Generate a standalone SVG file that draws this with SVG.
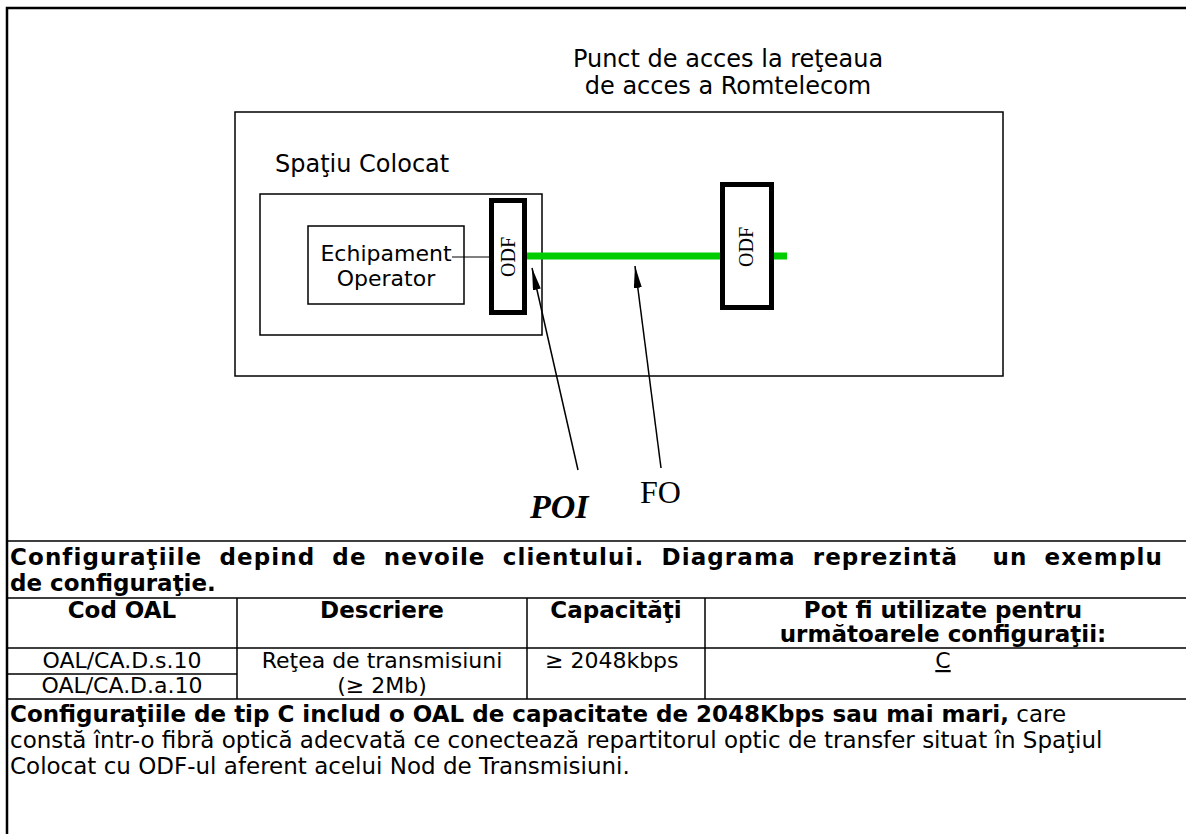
<svg xmlns="http://www.w3.org/2000/svg" width="1186" height="834" viewBox="0 0 1186 834">
<style>
.ln{stroke:#000;stroke-width:1.5;fill:none}
.frame{stroke:#000;stroke-width:2.5;fill:none}
.odf{stroke:#000;stroke-width:5;fill:#fff}
.s{font-family:"DejaVu Sans",Verdana,sans-serif;fill:#000}
.b{font-weight:bold}
.serif{font-family:"Liberation Serif","Times New Roman",serif;fill:#000}
.c{text-anchor:middle}
</style>
<defs>
<marker id="ah" markerUnits="userSpaceOnUse" markerWidth="22" markerHeight="8" refX="22" refY="4" orient="auto">
<path d="M0,0 L22,4 L0,8 z" fill="#000"/>
</marker>
</defs>
<rect width="1186" height="834" fill="#fff"/>
<g id="frame">
<path class="frame" d="M7,834 V8 H1186"/>
<path class="ln" d="M7,541 H1186 M7,598 H1186 M7,648 H1186 M7,674 H237 M7,699 H1186 M237,598 V699 M527,598 V699 M705,598 V699"/>
</g>
<g id="retea">
<rect class="ln" x="235" y="112" width="768" height="264"/>
<text class="s c" x="728" y="67" font-size="24">Punct de acces la reţeaua</text>
<text class="s c" x="728" y="94" font-size="24">de acces a Romtelecom</text>
</g>
<g id="spatiu">
<rect class="ln" x="260" y="194" width="282" height="141"/>
<text class="s" x="275" y="172" font-size="24">Spaţiu Colocat</text>
</g>
<g id="echipament">
<rect class="ln" x="308" y="226" width="156" height="78"/>
<text class="s c" x="386" y="261" font-size="22">Echipament</text>
<text class="s c" x="386" y="286" font-size="22">Operator</text>
</g>
<g id="connectors">
<line x1="452" y1="257" x2="490" y2="257" stroke="#000" stroke-width="1"/>
<line x1="527" y1="256" x2="787" y2="256" stroke="#00cc00" stroke-width="7"/>
<line class="ln" x1="578" y1="470" x2="532" y2="268" marker-end="url(#ah)"/>
<line class="ln" x1="661" y1="468" x2="635" y2="266" marker-end="url(#ah)"/>
</g>
<g id="odf1">
<rect class="odf" x="491.5" y="200.5" width="33" height="112"/>
<text class="serif c" font-size="20" transform="translate(515,257) rotate(-90)">ODF</text>
</g>
<g id="odf2">
<rect class="odf" x="722.5" y="184.5" width="49" height="123"/>
<text class="serif c" font-size="20" transform="translate(753,247) rotate(-90)">ODF</text>
</g>
<g id="poi">
<text class="serif" x="530" y="518" font-size="34" font-weight="bold" font-style="italic">POI</text>
</g>
<g id="fo">
<text class="serif" x="640" y="503" font-size="32">FO</text>
</g>
<g id="table">
<text class="s b" x="10" y="565" font-size="23" word-spacing="8" letter-spacing="1.1" xml:space="preserve">Configuraţiile depind de nevoile clientului. Diagrama reprezintă  un exemplu</text>
<text class="s b" x="10" y="591" font-size="23">de configuraţie.</text>
<text class="s b c" x="122" y="618" font-size="23">Cod OAL</text>
<text class="s b c" x="382" y="618" font-size="23">Descriere</text>
<text class="s b c" x="616" y="618" font-size="23">Capacităţi</text>
<text class="s b c" x="943" y="618" font-size="23">Pot fi utilizate pentru</text>
<text class="s b c" x="943" y="642" font-size="23">următoarele configuraţii:</text>
<text class="s c" x="122" y="668" font-size="22">OAL/CA.D.s.10</text>
<text class="s c" x="122" y="693" font-size="22">OAL/CA.D.a.10</text>
<text class="s c" x="382" y="668" font-size="22">Reţea de transmisiuni</text>
<text class="s c" x="382" y="693" font-size="22">(≥ 2Mb)</text>
<text class="s" x="545" y="668" font-size="22">≥ 2048kbps</text>
<text class="s c" x="943" y="668" font-size="22" text-decoration="underline">C</text>
<text class="s" x="10" y="722" font-size="23"><tspan font-weight="bold">Configuraţiile de tip C includ o OAL de capacitate de 2048Kbps sau mai mari,</tspan> care</text>
<text class="s" x="10" y="748" font-size="23">constă într-o fibră optică adecvată ce conectează repartitorul optic de transfer situat în Spaţiul</text>
<text class="s" x="10" y="774" font-size="23">Colocat cu ODF-ul aferent acelui Nod de Transmisiuni.</text>
</g>
</svg>
